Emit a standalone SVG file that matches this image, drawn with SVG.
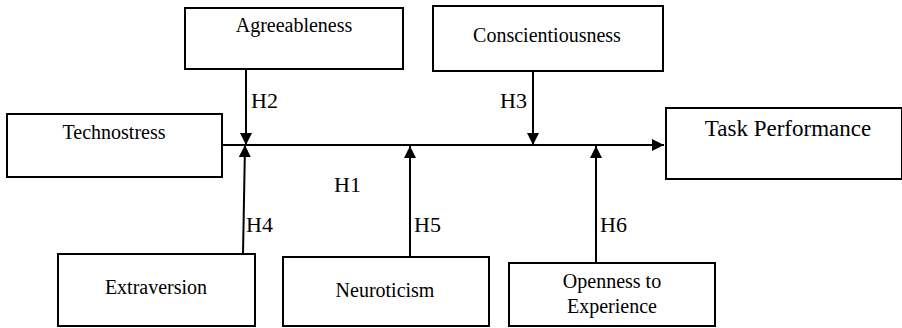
<svg xmlns="http://www.w3.org/2000/svg" width="902" height="328" viewBox="0 0 902 328">
<defs>
<style>
.box{fill:#fff;stroke:#000;stroke-width:2}
.ln{stroke:#000;stroke-width:2;fill:none}
</style>
<marker id="ah" viewBox="0 0 10 10" refX="10" refY="5" markerWidth="12" markerHeight="12" markerUnits="userSpaceOnUse" orient="auto">
<path d="M0,0 L10,5 L0,10 Z" fill="#000"/>
</marker>
</defs>
<rect width="902" height="328" fill="#fff"/>
<g id="connectors">
<line class="ln" x1="222" y1="145" x2="664" y2="145" marker-end="url(#ah)"/>
<line class="ln" x1="246" y1="69" x2="246" y2="145" marker-end="url(#ah)"/>
<line class="ln" x1="243" y1="254" x2="245" y2="145" marker-end="url(#ah)"/>
<line class="ln" x1="533" y1="71" x2="533" y2="145" marker-end="url(#ah)"/>
<line class="ln" x1="410" y1="257" x2="410" y2="146" marker-end="url(#ah)"/>
<line class="ln" x1="596" y1="263" x2="596" y2="146" marker-end="url(#ah)"/>
<g font-family="Liberation Serif, serif" font-size="22" fill="#000">
<text x="334" y="192">H1</text>
<text x="251" y="108">H2</text>
<text x="500" y="108">H3</text>
<text x="246" y="232">H4</text>
<text x="414" y="232">H5</text>
<text x="600" y="232">H6</text>
</g>
</g>
<g font-family="Liberation Serif, serif" font-size="20" text-anchor="middle" fill="#000">
<g id="agreeableness">
<rect class="box" x="185" y="8" width="218" height="61"/>
<text x="294" y="32">Agreeableness</text>
</g>
<g id="conscientiousness">
<rect class="box" x="433" y="6" width="230" height="65"/>
<text x="547" y="42">Conscientiousness</text>
</g>
<g id="technostress">
<rect class="box" x="7" y="114" width="215" height="63"/>
<text x="114" y="139">Technostress</text>
</g>
<g id="task-performance">
<rect class="box" x="666" y="108" width="236" height="71"/>
<text x="788" y="136" font-size="23">Task Performance</text>
</g>
<g id="extraversion">
<rect class="box" x="58" y="254" width="197" height="72"/>
<text x="156" y="294">Extraversion</text>
</g>
<g id="neuroticism">
<rect class="box" x="283" y="257" width="206" height="69"/>
<text x="385" y="297">Neuroticism</text>
</g>
<g id="openness">
<rect class="box" x="509" y="263" width="206" height="63"/>
<text x="612" y="288">Openness to</text>
<text x="612" y="313">Experience</text>
</g>
</g>
</svg>
